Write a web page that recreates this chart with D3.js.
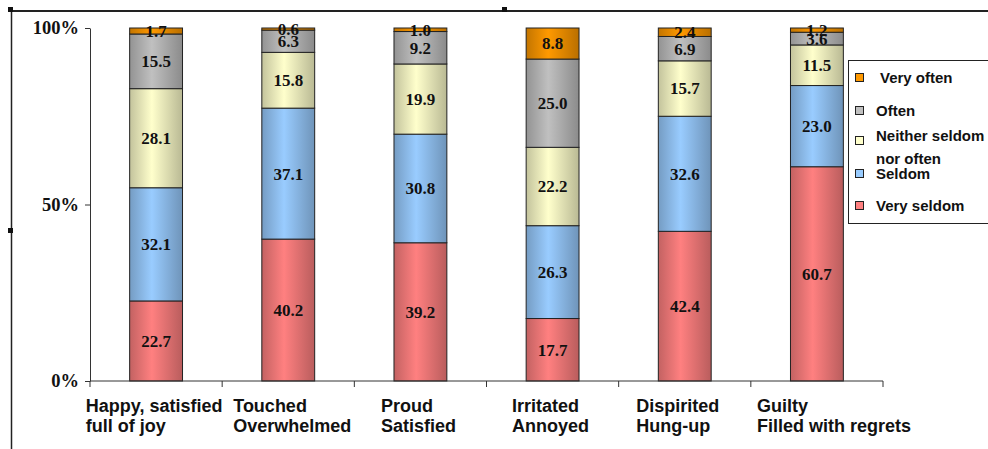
<!DOCTYPE html>
<html>
<head>
<meta charset="utf-8">
<script src="https://cdn.jsdelivr.net/npm/d3@7"></script>
<style>
  html, body { margin: 0; padding: 0; background: #fff; }
  svg { display: block; }
</style>
</head>
<body>
<div id="chart"></div>
<script>
// data (percent of answers)
var categories = ["Happy, satisfied\nfull of joy", "Touched\nOverwhelmed", "Proud\nSatisfied",
                  "Irritated\nAnnoyed", "Dispirited\nHung-up", "Guilty\nFilled with regrets"];
var seriesNames = ["Very seldom", "Seldom", "Neither seldom\nnor often", "Often", "Very often"];
var verySeldom = [22.7, 40.2, 39.2, 17.7, 42.4, 60.7];
var seldom     = [32.1, 37.1, 30.8, 26.3, 32.6, 23.0];
var neither    = [28.1, 15.8, 19.9, 22.2, 15.7, 11.5];
var often      = [15.5, 6.3, 9.2, 25.0, 6.9, 3.6];
var veryOften  = [1.7, 0.6, 1.0, 8.8, 2.4, 1.2];
var yTicks = [0, 0.5, 1];

var seriesValues = [verySeldom, seldom, neither, often, veryOften];
var colors = ["#ff8080", "#99ccff", "#ffffcc", "#c0c0c0", "#ff9900"];

var w = 988, h = 449;
var margin = {top: 28, right: 105, bottom: 68, left: 90};

var svg = d3.select("#chart").append("svg")
    .attr("width", w)
    .attr("height", h);

// gradients like the old office bars: dark edges, light stripe left of middle
var defs = svg.append("defs");
colors.forEach(function(c, i){
    var g = defs.append("linearGradient")
        .attr("id", "grad" + i)
        .attr("x1", "0%").attr("x2", "100%").attr("y1", "0%").attr("y2", "0%");
    g.append("stop").attr("offset", "0%").attr("stop-color", d3.color(c).darker(0.75));
    g.append("stop").attr("offset", "42%").attr("stop-color", c);
    g.append("stop").attr("offset", "100%").attr("stop-color", d3.color(c).darker(0.9));
});

// table for the stack
var table = categories.map(function(c, i){
    var row = {cat: c};
    seriesNames.forEach(function(s, k){ row[s] = seriesValues[k][i]; });
    return row;
});

var stacked = d3.stack()
    .keys(seriesNames)
    .offset(d3.stackOffsetExpand)(table);

var x = d3.scaleBand()
    .domain(categories)
    .range([margin.left, w - margin.right])
    .paddingInner(0.6)
    .paddingOuter(0.3);

var y = d3.scaleLinear()
    .domain([0, 1])
    .range([h - margin.bottom, margin.top]);

// frame bits of the pasted picture
svg.append("line")
    .attr("x1", 10).attr("x2", w).attr("y1", 11).attr("y2", 11)
    .style("stroke", "#222").style("stroke-width", 2);
svg.append("line")
    .attr("x1", 11.5).attr("x2", 11.5).attr("y1", 10).attr("y2", h)
    .style("stroke", "#222").style("stroke-width", 1.5);
[[8, 7], [502, 7], [8, 228]].forEach(function(p){
    svg.append("rect").attr("x", p[0]).attr("y", p[1]).attr("width", 5).attr("height", 5).attr("fill", "#111");
});

// bars
var layers = svg.selectAll("g.layer")
    .data(stacked)
    .enter().append("g")
    .attr("class", "layer")
    .attr("fill", function(d, i){ return "url(#grad" + i + ")"; });

layers.selectAll("rect")
    .data(function(d){ return d; })
    .enter().append("rect")
    .attr("x", function(d){ return x(d.data.cat); })
    .attr("y", function(d){ return y(d[1]); })
    .attr("width", x.bandwidth())
    .attr("height", function(d){ return y(d[0]) - y(d[1]); })
    .style("stroke", "#222")
    .style("stroke-width", 1);

// value labels
stacked.forEach(function(layer, k){
    svg.append("g").selectAll("text")
        .data(layer)
        .enter().append("text")
        .attr("x", function(d){ return x(d.data.cat) + x.bandwidth() / 2; })
        .attr("y", function(d){ return (y(d[0]) + y(d[1])) / 2; })
        .attr("dy", "0.35em")
        .attr("text-anchor", "middle")
        .style("font-family", "'Liberation Serif', 'Times New Roman', serif")
        .style("font-weight", "bold")
        .style("font-size", "17px")
        .style("fill", "#111")
        .text(function(d){ return seriesValues[k][categories.indexOf(d.data.cat)].toFixed(1); });
});

// y axis
var yAxis = svg.append("g")
    .attr("transform", "translate(" + margin.left + ",0)")
    .call(d3.axisLeft(y).tickValues(yTicks).tickFormat(d3.format(".0%")).tickSize(5).tickSizeOuter(0).tickPadding(6));
yAxis.select(".domain").style("stroke", "#333");
yAxis.selectAll(".tick line").style("stroke", "#333");
yAxis.selectAll(".tick text")
    .style("font-family", "'Liberation Serif', 'Times New Roman', serif")
    .style("font-weight", "bold")
    .style("font-size", "18.5px")
    .style("fill", "#111");

// x axis, ticks between the categories
var base = y(0);
svg.append("line")
    .attr("x1", margin.left).attr("x2", w - margin.right)
    .attr("y1", base).attr("y2", base)
    .style("stroke", "#333");
for (var i = 0; i <= categories.length; i++){
    var tx = margin.left + i * x.step();
    svg.append("line")
        .attr("x1", tx).attr("x2", tx)
        .attr("y1", base).attr("y2", base + 6)
        .style("stroke", "#333");
}

// category labels, small nudges as in the original
var labelShift = [-2, 4, -2, -2, -7, 17];
categories.forEach(function(c, i){
    var lines = c.split("\n");
    var t = svg.append("text")
        .style("font-family", "'Liberation Sans', Arial, sans-serif")
        .style("font-weight", "bold")
        .style("font-size", "18px")
        .style("fill", "#111");
    lines.forEach(function(l, j){
        t.append("tspan").attr("y", 412 + j * 20).text(l);
    });
    var maxW = 0;
    t.selectAll("tspan").each(function(){ maxW = Math.max(maxW, this.getComputedTextLength()); });
    var left = x(c) + x.bandwidth() / 2 - maxW / 2 + labelShift[i];
    t.selectAll("tspan").attr("x", left);
});

// legend (cut by the right edge like the original)
var legend = svg.append("g");
legend.append("rect")
    .attr("x", 848.5).attr("y", 60.5).attr("width", 150).attr("height", 163)
    .attr("fill", "#fff")
    .style("stroke", "#222");

var legendY = [78, 111, 141, 174, 206];
var order = [4, 3, 2, 1, 0];
order.forEach(function(k, j){
    legend.append("rect")
        .attr("x", 855.5).attr("y", legendY[j] - 4.5)
        .attr("width", 8).attr("height", 8)
        .attr("fill", colors[k])
        .style("stroke", "#222");
    var t = legend.append("text")
        .style("font-family", "'Liberation Sans', Arial, sans-serif")
        .style("font-weight", "bold")
        .style("font-size", "15px")
        .style("fill", "#111");
    seriesNames[k].split("\n").forEach(function(l, m){
        t.append("tspan")
            .attr("x", k == 4 ? 880 : 876)
            .attr("y", legendY[j] + 5 + m * 18 - (m == 0 && k == 2 ? 5 : 0))
            .text(l);
    });
});
</script>
</body>
</html>
